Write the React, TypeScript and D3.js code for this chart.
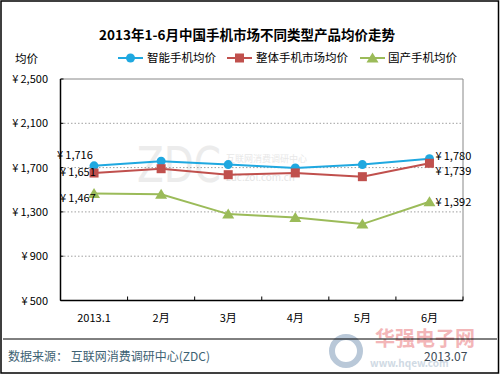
import React from "react";
import * as d3 from "d3";

const categories = ["2013.1", "2月", "3月", "4月", "5月", "6月"];
const smartAvg = [1716, 1757, 1727, 1697, 1727, 1780];
const overallAvg = [1651, 1690, 1636, 1652, 1618, 1739];
const domesticAvg = [1467, 1460, 1280, 1250, 1190, 1392];
const yTicks = [500, 900, 1300, 1700, 2100, 2500];
const seriesNames = ["智能手机均价", "整体手机市场均价", "国产手机均价"];
const seriesColors = ["#1fa8e0", "#c0504d", "#9bbb59"];

const W = 500, H = 375;
const plot = { left: 60.5, right: 463, top: 79, bottom: 300.5 };
const FONT = "'Noto Sans CJK SC', 'DejaVu Sans', sans-serif";

function Marker({ kind, x, y, color }: { kind: number; x: number; y: number; color: string }) {
  if (kind === 0) return <circle cx={x} cy={y} r={4.5} fill={color} />;
  if (kind === 1) return <rect x={x - 4.5} y={y - 4.5} width={9} height={9} fill={color} />;
  const p = d3.path();
  p.moveTo(x, y - 5.5);
  p.lineTo(x + 6, y + 4.5);
  p.lineTo(x - 6, y + 4.5);
  p.closePath();
  return <path d={p.toString()} fill={color} />;
}

export default function App() {
  const x = d3.scaleBand<string>().domain(categories).range([plot.left, plot.right]);
  const y = d3.scaleLinear().domain([500, 2500]).range([plot.bottom, plot.top]);
  const cx = (c: string) => (x(c) as number) + x.bandwidth() / 2;
  const series = [smartAvg, overallAvg, domesticAvg];
  const line = d3
    .line<number>()
    .x((_, i) => cx(categories[i]))
    .y((d) => y(d));
  const fmt = (v: number) => "¥\u2009" + d3.format(",")(v);
  const boundaries = categories.map((c) => x(c) as number).concat([plot.right]);
  const last = categories.length - 1;

  return (
    <svg width={W} height={H} style={{ position: "absolute", left: 0, top: 0 }} fontFamily={FONT}>
      <rect x={0} y={0} width={W} height={H} fill="#fff" />
      <rect x={1} y={1} width={W - 2.5} height={H - 3} fill="none" stroke="#000" strokeWidth={1.5} />
      {/* watermarks */}
      <text x={137} y={182} fontSize={50} fill="#ececec" fontFamily="'DejaVu Sans', sans-serif" textLength={84} lengthAdjust="spacingAndGlyphs">ZDC</text>
      <text x={226} y={162} fontSize={9} fill="#e8e8e8">互联网消费调研中心</text>
      <text x={226} y={181} fontSize={10} fill="#e4e4e4">zdc.zol.com.cn</text>
      <circle cx={346} cy={351} r={14} fill="none" stroke="#b9c8d8" strokeWidth={6} />
      <text x={375} y={346} fontSize={20} fontWeight="bold" fill="#f3b6b8">华强电子网</text>
      <text x={370} y={367} fontSize={10} fontWeight="bold" fill="#d0dae4">www.hqew.com</text>

      {/* title */}
      <text x={247} y={40} textAnchor="middle" fontSize={13.5} fontWeight="bold" fill="#000">
        2013年1-6月中国手机市场不同类型产品均价走势
      </text>
      <text x={15} y={63} fontSize={11.5} fill="#000">均价</text>
      {/* legend */}
      {[
        { x0: 118, tx: 147 },
        { x0: 227, tx: 256 },
        { x0: 360, tx: 388 },
      ].map((l, i) => (
        <g key={i}>
          <line x1={l.x0} x2={l.x0 + 25} y1={58} y2={58} stroke={seriesColors[i]} strokeWidth={2} />
          <Marker kind={i} x={l.x0 + 12.5} y={58} color={seriesColors[i]} />
          <text x={l.tx} y={62} fontSize={11.5} fill="#000">{seriesNames[i]}</text>
        </g>
      ))}

      {/* grid */}
      {yTicks.slice(1, -1).map((t) => (
        <line key={t} x1={plot.left} x2={plot.right} y1={y(t)} y2={y(t)} stroke="#a0a0a0" strokeDasharray="1.5,2" strokeWidth={1} />
      ))}
      <line x1={plot.left} x2={plot.right} y1={plot.top} y2={plot.top} stroke="#888" />
      <line x1={plot.right} x2={plot.right} y1={plot.top} y2={plot.bottom} stroke="#888" />
      <line x1={plot.left} x2={plot.left} y1={plot.top} y2={plot.bottom} stroke="#000" strokeWidth={1.5} />
      <line x1={plot.left} x2={plot.right} y1={plot.bottom} y2={plot.bottom} stroke="#000" strokeWidth={1.5} />
      {yTicks.map((t) => (
        <g key={t}>
          <line x1={plot.left} x2={plot.left + 3} y1={y(t)} y2={y(t)} stroke="#000" />
          <text x={48} y={y(t) + 4} textAnchor="end" fontSize={11} fill="#000">{fmt(t)}</text>
        </g>
      ))}
      {boundaries.map((b, i) => (
        <line key={i} x1={b} x2={b} y1={plot.bottom} y2={plot.bottom - 4} stroke="#000" />
      ))}
      {categories.map((c) => (
        <text key={c} x={cx(c)} y={322} textAnchor="middle" fontSize={11} fill="#000">{c}</text>
      ))}

      {/* series */}
      {series.map((s, i) => (
        <g key={i}>
          <path d={line(s) || ""} fill="none" stroke={seriesColors[i]} strokeWidth={2} />
          {s.map((v, j) => (
            <Marker key={j} kind={i} x={cx(categories[j])} y={y(v)} color={seriesColors[i]} />
          ))}
        </g>
      ))}

      {/* data labels */}
      <text x={57} y={y(smartAvg[0]) - 7} fontSize={11} fill="#000">{fmt(smartAvg[0])}</text>
      <text x={60} y={y(overallAvg[0]) + 3} fontSize={11} fill="#000">{fmt(overallAvg[0])}</text>
      <text x={60} y={y(domesticAvg[0]) + 9} fontSize={11} fill="#000">{fmt(domesticAvg[0])}</text>
      <text x={cx(categories[last]) + 6} y={y(smartAvg[last]) + 1} fontSize={11} fill="#000">{fmt(smartAvg[last])}</text>
      <text x={cx(categories[last]) + 6} y={y(overallAvg[last]) + 12} fontSize={11} fill="#000">{fmt(overallAvg[last])}</text>
      <text x={cx(categories[last]) + 6} y={y(domesticAvg[last]) + 4} fontSize={11} fill="#000">{fmt(domesticAvg[last])}</text>

      {/* footer */}
      <line x1={3} x2={497} y1={339} y2={339} stroke="#000" strokeWidth={1} />
      <text x={8} y={361} fontSize={12} fill="#3d6273">数据来源：  互联网消费调研中心(ZDC)</text>
      <text x={424} y={361} fontSize={12} fill="#3d4a55">2013.07</text>
    </svg>
  );
}
